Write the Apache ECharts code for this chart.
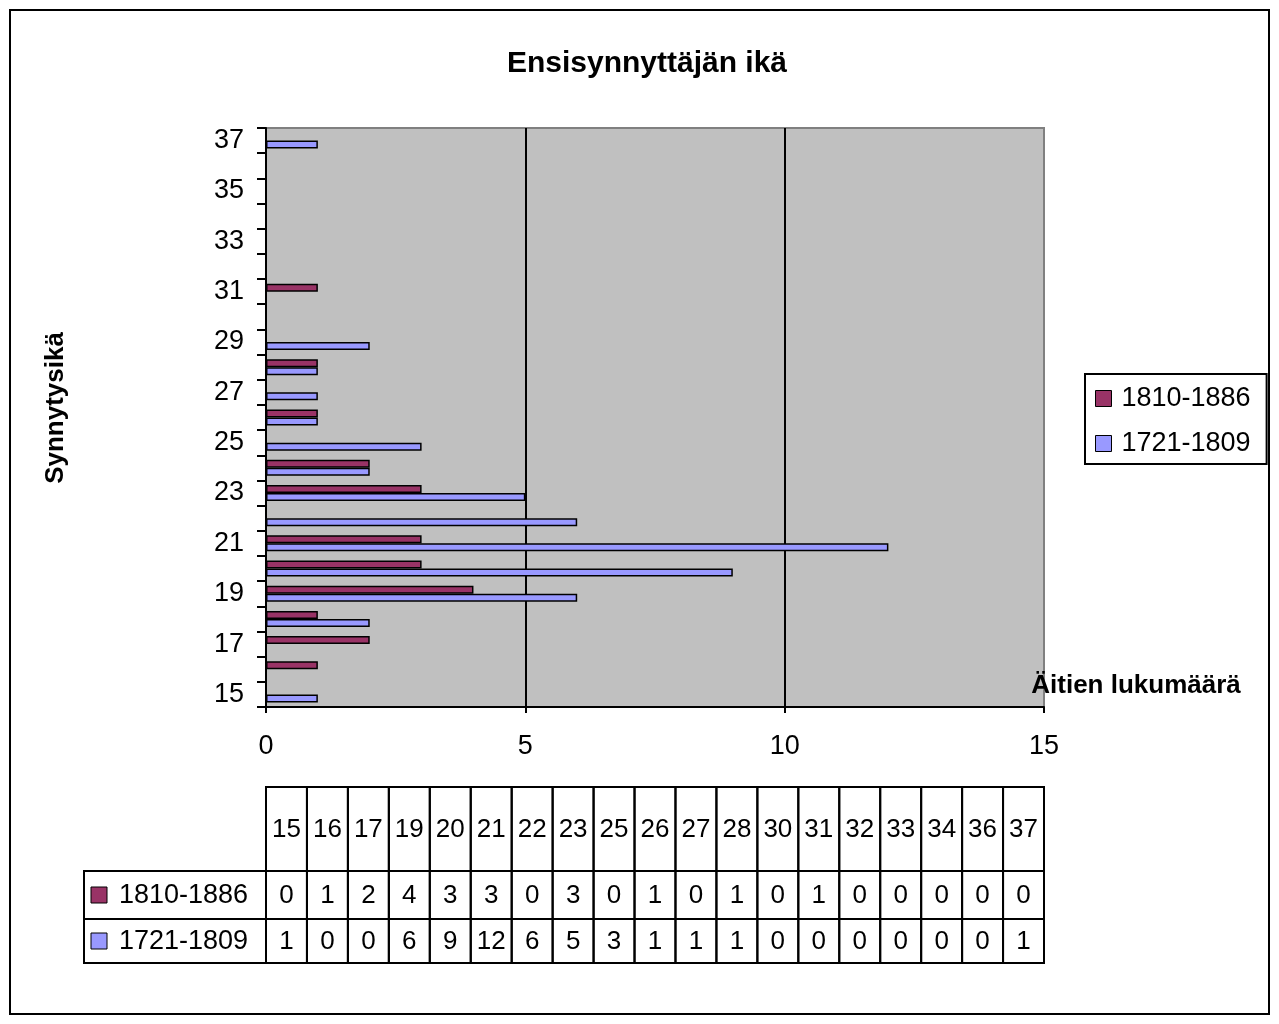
<!DOCTYPE html>
<html>
<head>
<meta charset="utf-8">
<script src="https://cdn.jsdelivr.net/npm/echarts@6/dist/echarts.min.js"></script>
<style>
  html, body { margin: 0; padding: 0; background: #fff; }
  #chart { width: 1279px; height: 1024px; }
</style>
</head>
<body>
<div id="chart"></div>
<script>
// chart bars, one slot per age 15..37
var ages = ['15','16','17','18','19','20','21','22','23','24','25','26','27','28','29','30','31','32','33','34','35','36','37'];
var recent = [0,1,2,1,4,3,3,0,3,2,0,1,0,1,0,0,1,0,0,0,0,0,0];   // 1810-1886
var early  = [1,0,0,2,6,9,12,6,5,2,3,1,1,1,2,0,0,0,0,0,0,0,1];  // 1721-1809
var seriesNames = ['1810-1886', '1721-1809'];

// data table under the chart
var tableAges = ['15','16','17','19','20','21','22','23','25','26','27','28','30','31','32','33','34','36','37'];
var tableRecent = [0,1,2,4,3,3,0,3,0,1,0,1,0,1,0,0,0,0,0];
var tableEarly  = [1,0,0,6,9,12,6,5,3,1,1,1,0,0,0,0,0,0,1];

var xMin = 0, xMax = 15, xStep = 5;

var maroon = '#993366', lilac = '#9999ff';
var font = '"Liberation Sans", Arial, sans-serif';

// layout
var plotLeft = 266, plotRight = 1044, plotTop = 128, plotBottom = 707;
var tableLeft = 84, tableTop = 787;
var rowEdges = [0, 84, 132, 176];
var colW = (plotRight - plotLeft) / tableAges.length;
var legendCols = (plotLeft - tableLeft) / colW;

var cells = [];
tableAges.forEach(function (a, i) { cells.push({ value: [i, i + 1, 0], text: a }); });
[[seriesNames[0], maroon, tableRecent], [seriesNames[1], lilac, tableEarly]].forEach(function (r, k) {
  cells.push({ value: [-legendCols, 0, k + 1], text: r[0], color: r[1] });
  r[2].forEach(function (v, i) { cells.push({ value: [i, i + 1, k + 1], text: String(v) }); });
});

var chart = echarts.init(document.getElementById('chart'), null, { renderer: 'canvas' });
chart.setOption({
  animation: false,
  textStyle: { fontFamily: font },
  title: {
    text: 'Ensisynnyttäjän ikä', left: 642, top: 43, textAlign: 'center',
    textStyle: { fontFamily: font, fontWeight: 'bold', fontSize: 30, lineHeight: 32, color: '#000' }
  },
  legend: {
    orient: 'vertical', left: 1085, top: 374,
    data: seriesNames,
    icon: 'rect', itemWidth: 16, itemHeight: 16, itemGap: 18,
    padding: [11, 16, 7, 10],
    borderColor: '#000', borderWidth: 2,
    itemStyle: { borderColor: '#000', borderWidth: 1 },
    textStyle: { fontFamily: font, fontSize: 27, lineHeight: 26, color: '#000', padding: [0, 0, 0, 5] }
  },
  graphic: [
    { type: 'rect', shape: { x: 10, y: 10, width: 1259, height: 1004 }, style: { fill: 'none', stroke: '#000', lineWidth: 2 }, silent: true },
    { type: 'text', x: 56, y: 408, rotation: Math.PI / 2,
      style: { text: 'Synnytysikä', font: 'bold 26px ' + font, fill: '#000', align: 'center', verticalAlign: 'middle' } },
    { type: 'text', x: 1136, y: 686,
      style: { text: 'Äitien lukumäärä', font: 'bold 26px ' + font, fill: '#000', align: 'center', verticalAlign: 'middle' } }
  ],
  grid: [
    { left: plotLeft, top: plotTop, width: plotRight - plotLeft, height: plotBottom - plotTop,
      show: true, backgroundColor: '#c0c0c0', borderColor: '#808080', borderWidth: 2 },
    { left: tableLeft, top: tableTop, width: plotRight - tableLeft, height: rowEdges[rowEdges.length - 1] }
  ],
  xAxis: [
    { type: 'value', gridIndex: 0, min: xMin, max: xMax, interval: xStep,
      axisLine: { show: true, lineStyle: { color: '#000', width: 2 } },
      axisTick: { show: true, length: 6, lineStyle: { color: '#000', width: 2 } },
      axisLabel: { color: '#000', fontSize: 27, margin: 26, fontFamily: font },
      splitLine: { show: true, showMinLine: false, showMaxLine: false, lineStyle: { color: '#000', width: 2 } } },
    { type: 'value', gridIndex: 1, min: -legendCols, max: tableAges.length, show: false }
  ],
  yAxis: [
    { type: 'category', gridIndex: 0, data: ages, boundaryGap: true,
      axisLine: { show: true, lineStyle: { color: '#000', width: 2 } },
      axisTick: { show: true, interval: 0, length: 9, lineStyle: { color: '#000', width: 2 } },
      axisLabel: { interval: 1, color: '#000', fontSize: 27, margin: 22, fontFamily: font, padding: [4, 0, 0, 0] },
      splitLine: { show: false } },
    { type: 'value', gridIndex: 1, min: 0, max: rowEdges[rowEdges.length - 1], inverse: true, show: false }
  ],
  series: [
    { name: seriesNames[0], type: 'bar', data: recent, barWidth: 8, barGap: '0%',
      itemStyle: { color: maroon, borderColor: '#000', borderWidth: 1.5 }, silent: true },
    { name: seriesNames[1], type: 'bar', data: early, barWidth: 8, barGap: '0%',
      itemStyle: { color: lilac, borderColor: '#000', borderWidth: 1.5 }, silent: true },
    { type: 'custom', xAxisIndex: 1, yAxisIndex: 1, silent: true, clip: false,
      encode: { x: [0, 1], y: 2 },
      data: cells,
      renderItem: function (params, api) {
        var cell = cells[params.dataIndex];
        var r = api.value(2);
        var p0 = api.coord([api.value(0), rowEdges[r]]);
        var p1 = api.coord([api.value(1), rowEdges[r + 1]]);
        var cy = (p0[1] + p1[1]) / 2;
        var kids = [{ type: 'rect', shape: { x: p0[0], y: p0[1], width: p1[0] - p0[0], height: p1[1] - p0[1] },
                      style: { fill: 'none', stroke: '#000', lineWidth: 2 } }];
        if (cell.color) {
          kids.push({ type: 'rect', shape: { x: p0[0] + 7, y: cy - 8, width: 16, height: 16 },
                      style: { fill: cell.color, stroke: '#000', lineWidth: 1 } });
          kids.push({ type: 'text', x: p0[0] + 35, y: cy + 1,
                      style: { text: cell.text, font: '27px ' + font, fill: '#000', align: 'left', verticalAlign: 'middle' } });
        } else {
          kids.push({ type: 'text', x: (p0[0] + p1[0]) / 2, y: cy + 1,
                      style: { text: cell.text, font: '26px ' + font, fill: '#000', align: 'center', verticalAlign: 'middle' } });
        }
        return { type: 'group', children: kids };
      } }
  ]
});
window.addEventListener('resize', function () { chart.resize(); });
</script>
</body>
</html>
